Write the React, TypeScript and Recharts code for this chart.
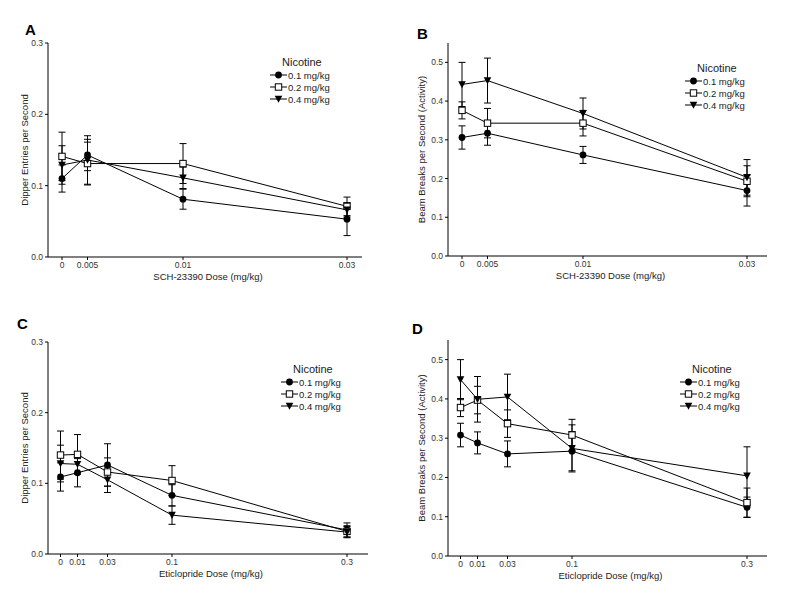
import { LineChart, Line, XAxis, YAxis, ErrorBar } from 'recharts'

// dose labels
const schDoses = ['0', '0.005', '0.01', '0.03']
const etDoses = ['0', '0.01', '0.03', '0.1', '0.3']

const nicotineLevels = ['0.1 mg/kg', '0.2 mg/kg', '0.4 mg/kg']

// A: dipper entries, SCH-23390
const dipperSch01 = [0.110, 0.143, 0.081, 0.053]
const dipperSch01Err = [0.019, 0.022, 0.014, 0.023]
const dipperSch02 = [0.141, 0.131, 0.131, 0.071]
const dipperSch02Err = [0.034, 0.030, 0.028, 0.013]
const dipperSch04 = [0.129, 0.136, 0.111, 0.066]
const dipperSch04Err = [0.027, 0.034, 0.015, 0.010]

// B: beam breaks, SCH-23390
const beamSch01 = [0.306, 0.317, 0.261, 0.169]
const beamSch01Err = [0.030, 0.031, 0.022, 0.040]
const beamSch02 = [0.376, 0.343, 0.343, 0.193]
const beamSch02Err = [0.022, 0.038, 0.033, 0.040]
const beamSch04 = [0.443, 0.453, 0.368, 0.203]
const beamSch04Err = [0.057, 0.058, 0.040, 0.046]

// C: dipper entries, eticlopride
const dipperEt01 = [0.109, 0.115, 0.126, 0.083, 0.034]
const dipperEt01Err = [0.020, 0.020, 0.030, 0.015, 0.010]
const dipperEt02 = [0.140, 0.141, 0.116, 0.104, 0.032]
const dipperEt02Err = [0.034, 0.028, 0.020, 0.021, 0.008]
const dipperEt04 = [0.128, 0.127, 0.105, 0.055, 0.031]
const dipperEt04Err = [0.026, 0.012, 0.018, 0.013, 0.008]

// D: beam breaks, eticlopride
const beamEt01 = [0.308, 0.288, 0.260, 0.267, 0.124]
const beamEt01Err = [0.030, 0.028, 0.033, 0.050, 0.026]
const beamEt02 = [0.378, 0.397, 0.337, 0.308, 0.136]
const beamEt02Err = [0.023, 0.035, 0.035, 0.040, 0.037]
const beamEt04 = [0.449, 0.399, 0.405, 0.274, 0.204]
const beamEt04Err = [0.051, 0.058, 0.058, 0.060, 0.074]

// the dose axis is not linear in the original figure: each dose sits in a fixed slot (px along the axis)
const schSlots = [14, 39.5, 135, 299]
const etSlots = [12.5, 29.5, 59.5, 124, 299]

const FONT = '"Liberation Sans", Arial, sans-serif'

type Kind = 'circle' | 'square' | 'triangle'
const kinds: Kind[] = ['circle', 'square', 'triangle']

const Marker = ({ cx, cy, kind }: { cx: number; cy: number; kind: Kind }) => {
  if (cx == null || cy == null) return null
  if (kind === 'circle') return <circle cx={cx} cy={cy} r={3.4} fill="#000" />
  if (kind === 'square')
    return <rect x={cx - 3.2} y={cy - 3.2} width={6.4} height={6.4} fill="#fff" stroke="#000" strokeWidth={1} />
  return <polygon points={`${cx - 3.8},${cy - 3.3} ${cx + 3.8},${cy - 3.3} ${cx},${cy + 3.8}`} fill="#000" />
}

const buildRows = (doses: string[], slots: number[], series: number[][], errs: number[][]) =>
  doses.map((d, i) => {
    const row: Record<string, number | string> = { x: slots[i], dose: d }
    series.forEach((s, k) => {
      row['s' + k] = s[i]
      row['e' + k] = errs[k][i]
    })
    return row
  })

interface PanelProps {
  letter: string
  left: number
  top: number
  margin: { top: number; right: number; left: number; bottom: number }
  doses: string[]
  slots: number[]
  series: number[][]
  errs: number[][]
  yMax: number
  yTicks: number[]
  yTitle: string
  yTitleX: number
  xTitle: string
  letterPos: [number, number]
  legendPos: [number, number]
}

const Panel = (p: PanelProps) => {
  const rows = buildRows(p.doses, p.slots, p.series, p.errs)
  const plotW = 400 - p.margin.left - 48 - p.margin.right
  const labelOf = (v: number) => {
    const i = p.slots.indexOf(v)
    return i >= 0 ? p.doses[i] : ''
  }
  return (
    <div style={{ position: 'absolute', left: p.left, top: p.top, width: 400, height: 300 }}>
      <div
        style={{
          position: 'absolute',
          left: p.letterPos[0],
          top: p.letterPos[1],
          fontFamily: FONT,
          fontWeight: 'bold',
          fontSize: 15,
          lineHeight: '15px',
        }}
      >
        {p.letter}
      </div>
      <LineChart width={400} height={300} data={rows} margin={p.margin}>
        <XAxis
          dataKey="x"
          type="number"
          domain={[0, plotW]}
          ticks={p.slots}
          tickFormatter={labelOf}
          interval={0}
          height={30}
          stroke="#000"
          tickSize={3}
          tick={{ fontSize: 8.5, fill: '#333', fontFamily: FONT }}
          label={{ value: p.xTitle, position: 'insideBottom', offset: 7, dx: 3, style: { fontSize: 9.5, fill: '#222', fontFamily: FONT } }}
        />
        <YAxis
          type="number"
          domain={[0, p.yMax]}
          ticks={p.yTicks}
          tickFormatter={(v: number) => v.toFixed(1)}
          width={48}
          stroke="#000"
          tickSize={3}
          tick={{ fontSize: 8.5, fill: '#333', fontFamily: FONT }}
          label={{
            value: p.yTitle,
            angle: -90,
            position: 'insideLeft',
            offset: p.yTitleX,
            style: { textAnchor: 'middle', fontSize: 9.5, fill: '#222', fontFamily: FONT },
          }}
        />
        {kinds.map((kind, k) => (
          <Line
            key={kind}
            dataKey={'s' + k}
            stroke="#000"
            strokeWidth={1}
            isAnimationActive={false}
            dot={(d: any) => <Marker key={kind + d.index} cx={d.cx} cy={d.cy} kind={kind} />}
            activeDot={false}
          >
            <ErrorBar dataKey={'e' + k} width={3.5} stroke="#000" strokeWidth={1} direction="y" />
          </Line>
        ))}
      </LineChart>
      <div
        style={{
          position: 'absolute',
          left: p.legendPos[0],
          top: p.legendPos[1],
          fontFamily: FONT,
          color: '#222',
        }}
      >
        <div style={{ fontSize: 11, marginLeft: 12, lineHeight: '14px' }}>Nicotine</div>
        {nicotineLevels.map((lv, k) => (
          <div key={lv} style={{ display: 'flex', alignItems: 'center', height: 12, fontSize: 9.5 }}>
            <svg width={17} height={12} style={{ display: 'block' }}>
              <line x1={0} y1={6} x2={17} y2={6} stroke="#000" strokeWidth={1} />
              <Marker cx={8.5} cy={6} kind={kinds[k]} />
            </svg>
            <span style={{ marginLeft: 1 }}>{lv}</span>
          </div>
        ))}
      </div>
    </div>
  )
}

const App = () => (
  <div style={{ position: 'absolute', left: 0, top: 0, width: 800, height: 597, background: '#fff' }}>
    <Panel
      letter="A"
      left={0}
      top={0}
      margin={{ top: 43, right: 38, left: 0, bottom: 13 }}
      doses={schDoses}
      slots={schSlots}
      series={[dipperSch01, dipperSch02, dipperSch04]}
      errs={[dipperSch01Err, dipperSch02Err, dipperSch04Err]}
      yMax={0.3}
      yTicks={[0, 0.1, 0.2, 0.3]}
      yTitle="Dipper Entries per Second"
      yTitleX={25}
      xTitle="SCH-23390 Dose (mg/kg)"
      letterPos={[25, 22]}
      legendPos={[270, 55]}
    />
    <Panel
      letter="B"
      left={400}
      top={0}
      margin={{ top: 43, right: 33, left: 0, bottom: 14 }}
      doses={schDoses}
      slots={schSlots}
      series={[beamSch01, beamSch02, beamSch04]}
      errs={[beamSch01Err, beamSch02Err, beamSch04Err]}
      yMax={0.55}
      yTicks={[0, 0.1, 0.2, 0.3, 0.4, 0.5]}
      yTitle="Beam Breaks per Second (Activity)"
      yTitleX={22}
      xTitle="SCH-23390 Dose (mg/kg)"
      letterPos={[17, 26]}
      legendPos={[285, 61]}
    />
    <Panel
      letter="C"
      left={0}
      top={290}
      margin={{ top: 52, right: 32, left: 0, bottom: 6 }}
      doses={etDoses}
      slots={etSlots}
      series={[dipperEt01, dipperEt02, dipperEt04]}
      errs={[dipperEt01Err, dipperEt02Err, dipperEt04Err]}
      yMax={0.3}
      yTicks={[0, 0.1, 0.2, 0.3]}
      yTitle="Dipper Entries per Second"
      yTitleX={25}
      xTitle="Eticlopride Dose (mg/kg)"
      letterPos={[17, 26]}
      legendPos={[281, 72]}
    />
    <Panel
      letter="D"
      left={400}
      top={290}
      margin={{ top: 50, right: 33, left: 0, bottom: 4 }}
      doses={etDoses}
      slots={etSlots}
      series={[beamEt01, beamEt02, beamEt04]}
      errs={[beamEt01Err, beamEt02Err, beamEt04Err]}
      yMax={0.55}
      yTicks={[0, 0.1, 0.2, 0.3, 0.4, 0.5]}
      yTitle="Beam Breaks per Second (Activity)"
      yTitleX={22}
      xTitle="Eticlopride Dose (mg/kg)"
      letterPos={[12, 31]}
      legendPos={[280, 72]}
    />
  </div>
)

export default App
